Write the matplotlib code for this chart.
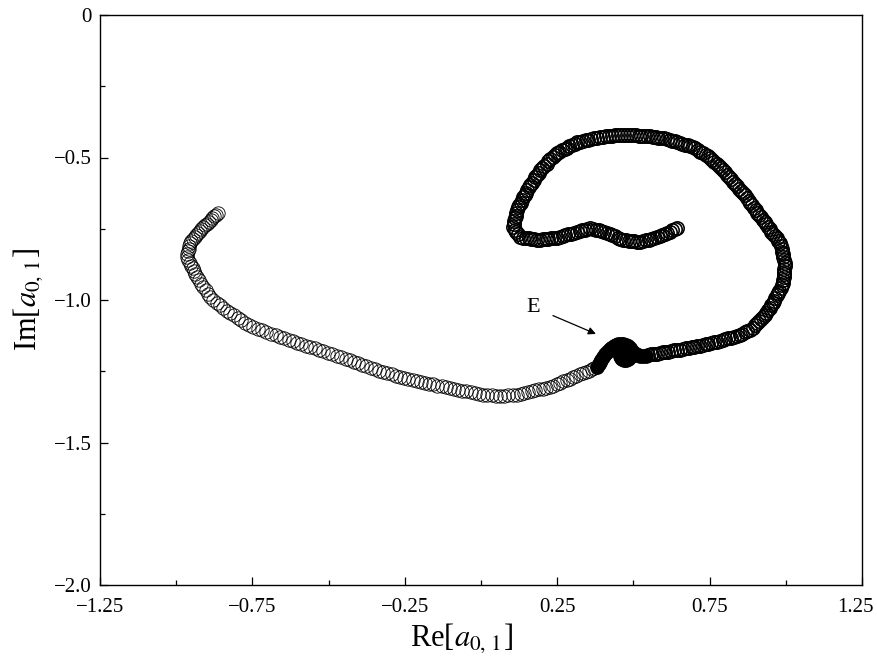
import numpy as np
import matplotlib
matplotlib.use('Agg')
from matplotlib import pyplot as plt
from matplotlib import transforms

plt.rcParams['font.family'] = ['Liberation Serif', 'DejaVu Serif']
plt.rcParams['mathtext.fontset'] = 'stix'

# outer branch: from the free end at upper left, down and along to the knot E
re_left = [
    -0.863, -0.869, -0.875, -0.881, -0.887, -0.894, -0.900, -0.906,
    -0.912, -0.917, -0.923, -0.928, -0.934, -0.939, -0.944, -0.950,
    -0.955, -0.957, -0.959, -0.961, -0.963,
    -0.965, -0.960, -0.956, -0.951, -0.946, -0.942, -0.937,
    -0.932, -0.925, -0.918, -0.911, -0.903, -0.896,
    -0.889, -0.878, -0.867, -0.856, -0.845, -0.834,
    -0.823, -0.811, -0.798, -0.786, -0.773, -0.761,
    -0.748, -0.733, -0.718, -0.704, -0.689, -0.674,
    -0.659, -0.645, -0.631, -0.617, -0.603, -0.589, -0.575,
    -0.561, -0.546, -0.532, -0.517, -0.503, -0.488, -0.473, -0.459, -0.444,
    -0.430, -0.416, -0.403, -0.389, -0.376, -0.362, -0.348, -0.335,
    -0.321, -0.307, -0.293, -0.279, -0.266, -0.252, -0.238, -0.224,
    -0.210, -0.197, -0.183, -0.170, -0.156, -0.143, -0.129, -0.116,
    -0.102, -0.088, -0.075, -0.061, -0.048, -0.034, -0.020, -0.007,
    0.007, 0.021, 0.035, 0.049, 0.062, 0.076, 0.090, 0.104,
    0.118, 0.130, 0.142, 0.154, 0.166, 0.178, 0.190, 0.202, 0.214,
    0.226, 0.237, 0.248, 0.259, 0.270, 0.281, 0.291, 0.302, 0.313, 0.324,
    0.335, 0.344, 0.353, 0.363, 0.372,
]
im_left = [
    -0.695, -0.701, -0.707, -0.713, -0.720, -0.726, -0.732, -0.738,
    -0.744, -0.751, -0.758, -0.765, -0.772, -0.779, -0.786, -0.793,
    -0.800, -0.810, -0.820, -0.829, -0.839,
    -0.849, -0.859, -0.869, -0.879, -0.889, -0.899, -0.909,
    -0.919, -0.931, -0.943, -0.954, -0.966, -0.978,
    -0.990, -0.999, -1.009, -1.018, -1.027, -1.037,
    -1.046, -1.054, -1.062, -1.071, -1.079, -1.087,
    -1.095, -1.101, -1.107, -1.112, -1.118, -1.124,
    -1.130, -1.135, -1.140, -1.145, -1.150, -1.155, -1.160,
    -1.165, -1.170, -1.175, -1.180, -1.185, -1.190, -1.196, -1.201, -1.206,
    -1.211, -1.216, -1.221, -1.227, -1.232, -1.237, -1.243, -1.248,
    -1.253, -1.257, -1.261, -1.265, -1.269, -1.272, -1.276, -1.280,
    -1.284, -1.287, -1.290, -1.293, -1.296, -1.300, -1.303, -1.306,
    -1.309, -1.312, -1.315, -1.318, -1.321, -1.324, -1.327, -1.330,
    -1.333, -1.334, -1.335, -1.336, -1.337, -1.336, -1.335, -1.334,
    -1.333, -1.330, -1.327, -1.324, -1.321, -1.317, -1.314, -1.311, -1.308,
    -1.305, -1.300, -1.295, -1.290, -1.285, -1.281, -1.276, -1.271, -1.266, -1.261,
    -1.256, -1.252, -1.248, -1.243, -1.239,
]

# slow knot around E
re_knot = [
    0.381, 0.386, 0.390, 0.395, 0.400, 0.406, 0.413, 0.420, 0.427, 0.435,
    0.443, 0.451, 0.459, 0.467, 0.476, 0.483, 0.489, 0.492, 0.495, 0.494,
    0.492, 0.487, 0.482, 0.475, 0.469, 0.464, 0.459, 0.457, 0.456, 0.459,
    0.463, 0.470, 0.476, 0.483, 0.489, 0.496, 0.502, 0.508, 0.515, 0.523,
    0.531, 0.540,
]
im_knot = [
    -1.235, -1.226, -1.218, -1.209, -1.200, -1.191, -1.182, -1.175, -1.168, -1.163,
    -1.158, -1.156, -1.154, -1.156, -1.158, -1.163, -1.168, -1.175, -1.182, -1.189,
    -1.196, -1.202, -1.207, -1.209, -1.211, -1.208, -1.204, -1.196, -1.189, -1.182,
    -1.175, -1.173, -1.172, -1.173, -1.175, -1.180, -1.186, -1.190, -1.193, -1.195,
    -1.196, -1.195,
]

# inner branch: out to the right, round the big loop and back in
re_right = [
    0.548, 0.558, 0.567, 0.577, 0.586, 0.596, 0.605, 0.615, 0.625, 0.634, 0.644, 0.653,
    0.663, 0.672, 0.682, 0.691, 0.700, 0.709, 0.718, 0.728, 0.737, 0.746, 0.755, 0.765,
    0.774, 0.783, 0.793, 0.802, 0.812, 0.821, 0.831,
    0.840, 0.849, 0.857, 0.866, 0.874,
    0.883, 0.891, 0.898,
    0.906, 0.912, 0.919,
    0.925, 0.931, 0.936, 0.942, 0.947, 0.953,
    0.958, 0.962, 0.966, 0.970, 0.975, 0.979, 0.983, 0.987,
    0.991, 0.992, 0.993, 0.994, 0.994, 0.995, 0.996,
    0.997, 0.995, 0.992, 0.990, 0.988, 0.986, 0.983,
    0.981, 0.975, 0.970, 0.964, 0.959, 0.953, 0.947, 0.942, 0.936, 0.931,
    0.925, 0.919, 0.913, 0.907, 0.901, 0.895, 0.890, 0.884, 0.878, 0.872, 0.866,
    0.860, 0.853, 0.847, 0.840, 0.834, 0.827, 0.820, 0.814, 0.807, 0.801,
    0.794, 0.787, 0.780, 0.773, 0.766, 0.759, 0.752,
    0.745, 0.737, 0.728, 0.720, 0.712, 0.703,
    0.695, 0.687, 0.678, 0.670, 0.661,
    0.653, 0.644, 0.636, 0.627, 0.619,
    0.610, 0.601, 0.591, 0.582, 0.573, 0.563,
    0.554, 0.545, 0.535, 0.526, 0.517, 0.508, 0.498,
    0.489, 0.479, 0.469, 0.459, 0.449, 0.440, 0.430, 0.420, 0.410, 0.400,
    0.390, 0.381, 0.371, 0.362, 0.352, 0.343, 0.334, 0.324,
    0.315, 0.307, 0.298, 0.290, 0.282, 0.274, 0.265, 0.257,
    0.249, 0.242, 0.235, 0.228, 0.221, 0.215, 0.208, 0.201,
    0.194, 0.189, 0.183, 0.178, 0.173, 0.167, 0.162, 0.156,
    0.151, 0.147, 0.143, 0.139, 0.135, 0.130, 0.126, 0.122,
    0.118, 0.116, 0.114, 0.111, 0.109, 0.107,
    0.105, 0.111, 0.116, 0.122,
    0.128, 0.137, 0.147, 0.156, 0.165, 0.175,
    0.184, 0.193, 0.203, 0.212, 0.221, 0.230, 0.240,
    0.249, 0.258, 0.268, 0.277, 0.287, 0.296, 0.306,
    0.315, 0.324, 0.332, 0.341, 0.349,
    0.358, 0.367, 0.376, 0.386, 0.395, 0.404,
    0.413, 0.422, 0.431, 0.439, 0.448, 0.457,
    0.466, 0.475, 0.485, 0.494, 0.503, 0.513,
    0.522, 0.531, 0.540, 0.550, 0.559, 0.568,
    0.577, 0.586, 0.594, 0.603, 0.611,
    0.620, 0.628, 0.635, 0.643,
]
im_right = [
    -1.193, -1.191, -1.190, -1.188, -1.186, -1.184, -1.183, -1.181, -1.179, -1.177, -1.176, -1.174,
    -1.172, -1.170, -1.168, -1.166, -1.164, -1.162, -1.160, -1.157, -1.155, -1.153, -1.151, -1.149,
    -1.147, -1.144, -1.141, -1.138, -1.135, -1.132, -1.129,
    -1.126, -1.122, -1.118, -1.113, -1.109,
    -1.105, -1.097, -1.089,
    -1.081, -1.074, -1.067,
    -1.060, -1.052, -1.044, -1.035, -1.027, -1.019,
    -1.011, -1.002, -0.993, -0.984, -0.975, -0.967, -0.958, -0.949,
    -0.940, -0.930, -0.920, -0.910, -0.900, -0.890, -0.880,
    -0.870, -0.860, -0.850, -0.840, -0.830, -0.820, -0.810,
    -0.800, -0.792, -0.784, -0.776, -0.768, -0.760, -0.751, -0.743, -0.735, -0.727,
    -0.719, -0.710, -0.702, -0.693, -0.685, -0.676, -0.668, -0.659, -0.651, -0.642, -0.633,
    -0.625, -0.617, -0.609, -0.601, -0.593, -0.585, -0.576, -0.568, -0.560, -0.552,
    -0.544, -0.537, -0.530, -0.523, -0.516, -0.509, -0.502,
    -0.495, -0.490, -0.484, -0.479, -0.474, -0.468,
    -0.463, -0.460, -0.457, -0.455, -0.452,
    -0.449, -0.446, -0.443, -0.441, -0.438,
    -0.435, -0.433, -0.432, -0.430, -0.428, -0.427,
    -0.425, -0.424, -0.424, -0.423, -0.423, -0.422, -0.422,
    -0.421, -0.421, -0.421, -0.421, -0.422, -0.422, -0.423, -0.424, -0.425, -0.427,
    -0.428, -0.430, -0.433, -0.435, -0.437, -0.439, -0.442, -0.444,
    -0.446, -0.451, -0.456, -0.460, -0.465, -0.470, -0.474, -0.479,
    -0.484, -0.492, -0.499, -0.507, -0.514, -0.522, -0.529, -0.537,
    -0.544, -0.553, -0.562, -0.570, -0.579, -0.588, -0.597, -0.605,
    -0.614, -0.623, -0.632, -0.640, -0.649, -0.658, -0.667, -0.675,
    -0.684, -0.694, -0.704, -0.714, -0.724, -0.734,
    -0.744, -0.753, -0.762, -0.770,
    -0.779, -0.781, -0.782, -0.784, -0.786, -0.787,
    -0.789, -0.788, -0.787, -0.786, -0.785, -0.784, -0.783,
    -0.782, -0.779, -0.776, -0.773, -0.770, -0.767, -0.764,
    -0.761, -0.758, -0.755, -0.753, -0.750,
    -0.747, -0.750, -0.753, -0.756, -0.759, -0.762,
    -0.765, -0.769, -0.773, -0.777, -0.781, -0.785,
    -0.789, -0.790, -0.792, -0.793, -0.794, -0.796,
    -0.797, -0.794, -0.791, -0.788, -0.785, -0.782,
    -0.779, -0.775, -0.772, -0.768, -0.765,
    -0.761, -0.756, -0.752, -0.747,
]

x_major = [-1.25, -0.75, -0.25, 0.25, 0.75, 1.25]
x_labels = ['\u22121.25', '\u22120.75', '\u22120.25', '0.25', '0.75', '1.25']
x_minor = [-1.0, -0.5, 0.0, 0.5, 1.0]
y_major = [0.0, -0.5, -1.0, -1.5, -2.0]
y_labels = ['0', '\u22120.5', '\u22121.0', '\u22121.5', '\u22122.0']
y_minor = [-0.25, -0.75, -1.25, -1.75]

fig = plt.figure(figsize=(8.78, 6.61), dpi=100)
ax = fig.add_axes([100 / 878, 76 / 661, 762 / 878, 570 / 661])

ring = dict(ls='none', marker='o', mec='black', ms=9.6)
ax.plot(re_left, im_left, mfc='none', mew=0.6, **ring)
ax.plot(re_right, im_right, mfc='none', mew=1.15, **ring)
# the knot is so slow that its rings merge into a solid patch
ax.plot(re_knot, im_knot, mfc='black', mew=1.0, **ring)

ax.annotate('E', xy=(0.377, -1.119), xytext=(0.171, -1.025),
            fontsize=16, ha='center', va='center',
            arrowprops=dict(arrowstyle='-|>', color='black', lw=0.9,
                            mutation_scale=11, shrinkA=8, shrinkB=0))

ax.set_xlim(-1.25, 1.25)
ax.set_ylim(-2.0, 0.0)
ax.set_xticks(x_major)
ax.set_xticklabels(x_labels)
ax.set_xticks(x_minor, minor=True)
ax.set_yticks(y_major)
ax.set_yticklabels(y_labels)
ax.set_yticks(y_minor, minor=True)
ax.tick_params(which='both', direction='in', top=False, right=False,
               labelsize=15, width=0.9)
ax.tick_params(which='major', length=6, pad=6)
ax.tick_params(which='minor', length=3.5)
ax.tick_params(axis='x', which='major', pad=9)
for s in ax.spines.values():
    s.set_linewidth(1.0)

# keep the last x label inside the figure
last = ax.get_xticklabels()[-1]
last.set_transform(last.get_transform() +
                   transforms.ScaledTranslation(-7 / 100, 0, fig.dpi_scale_trans))

ax.set_xlabel(r'Re[$a_{0,\,1}$]', fontsize=22)
ax.set_ylabel(r'Im[$a_{0,\,1}$]', fontsize=22)
ax.xaxis.set_label_coords(0.475, -0.064)
ax.yaxis.set_label_coords(-0.072, 0.5)

fig.savefig('out.png', dpi=100)
